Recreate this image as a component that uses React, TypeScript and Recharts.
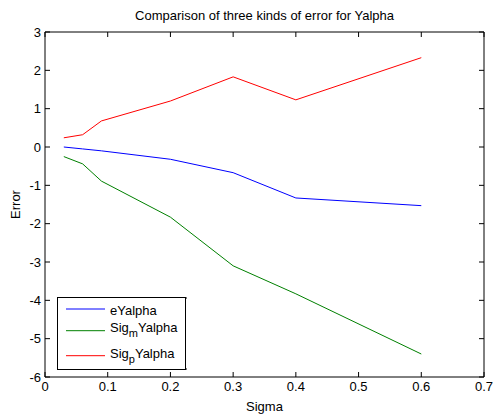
import { Legend, Line, LineChart, XAxis, YAxis } from 'recharts';

const sigma = [0.03, 0.06, 0.09, 0.2, 0.3, 0.4, 0.6];
const eYalpha = [0, -0.05, -0.1, -0.32, -0.67, -1.33, -1.53];
const sigmYalpha = [-0.25, -0.44, -0.89, -1.83, -3.1, -3.83, -5.4];
const sigpYalpha = [0.24, 0.32, 0.68, 1.2, 1.83, 1.23, 2.33];

const xTicks = [0, 0.1, 0.2, 0.3, 0.4, 0.5, 0.6, 0.7];
const yTicks = [-6, -5, -4, -3, -2, -1, 0, 1, 2, 3];

// the last series is bound to the top/right axes so those get a domain and draw the box
const series = [
  { key: 'eYalpha', color: '#0000ff', base: 'eYalpha', sub: '', rest: '', xId: 0, yId: 0 },
  { key: 'sigmYalpha', color: '#008000', base: 'Sig', sub: 'm', rest: 'Yalpha', xId: 0, yId: 0 },
  { key: 'sigpYalpha', color: '#ff0000', base: 'Sig', sub: 'p', rest: 'Yalpha', xId: 'top', yId: 'right' }
];

const data = sigma.map((s, i) => ({
  sigma: s,
  eYalpha: eYalpha[i],
  sigmYalpha: sigmYalpha[i],
  sigpYalpha: sigpYalpha[i]
}));

const FONT = '"Liberation Sans", Arial, sans-serif';
const TICK = 5;

// matlab-style ticks: short marks pointing into the plot box
const BottomTick = ({ x, y, payload }: any) => (
  <g>
    <line x1={x} x2={x} y1={y} y2={y - TICK} stroke="#000" />
    <text x={x} y={y + 14} textAnchor="middle" fontSize={13} fill="#000">
      {payload.value}
    </text>
  </g>
);

const LeftTick = ({ x, y, payload }: any) => (
  <g>
    <line x1={x} x2={x + TICK} y1={y} y2={y} stroke="#000" />
    <text x={x - 4} y={y + 4.5} textAnchor="end" fontSize={13} fill="#000">
      {payload.value}
    </text>
  </g>
);

const TopTick = ({ x, y }: any) => <line x1={x} x2={x} y1={y} y2={y + TICK} stroke="#000" />;
const RightTick = ({ x, y }: any) => <line x1={x} x2={x - TICK} y1={y} y2={y} stroke="#000" />;

const SigmaLabel = ({ viewBox }: any) => (
  <text x={viewBox.x + viewBox.width / 2} y={viewBox.y + 34} textAnchor="middle" fontSize={13} fill="#000">
    Sigma
  </text>
);

const ErrorLabel = ({ viewBox }: any) => {
  const cx = viewBox.x + 12;
  const cy = viewBox.y + viewBox.height / 2;
  return (
    <text x={cx} y={cy} transform={`rotate(-90 ${cx} ${cy})`} textAnchor="middle" fontSize={13} fill="#000">
      Error
    </text>
  );
};

const TitleLabel = ({ viewBox }: any) => (
  <text x={viewBox.x + viewBox.width / 2} y={viewBox.y + viewBox.height - 12} textAnchor="middle" fontSize={13} fill="#000">
    Comparison of three kinds of error for Yalpha
  </text>
);

const rowLine = [12, 33.7, 58.7];
const rowText = [18, 35.3, 61];

const LegendBox = () => (
  <svg width={129} height={73} style={{ display: 'block', fontFamily: FONT, overflow: 'visible' }}>
    <rect x={0.5} y={0.5} width={128} height={72} fill="#fff" stroke="#000" />
    {/* little stubs on the right edge of the legend frame */}
    <line x1={128.5} x2={130} y1={1} y2={1} stroke="#000" />
    <line x1={128.5} x2={130} y1={72} y2={72} stroke="#000" />
    {series.map((s, i) => (
      <g key={s.key}>
        <line x1={9} x2={48} y1={rowLine[i]} y2={rowLine[i]} stroke={s.color} />
        <text x={53} y={rowText[i]} fontSize={13} fill="#000">
          {s.base}
          {s.sub && (
            <>
              <tspan dy={5} fontSize={11}>
                {s.sub}
              </tspan>
              <tspan dy={-5}>{s.rest}</tspan>
            </>
          )}
        </text>
      </g>
    ))}
  </svg>
);

export default function App() {
  return (
    <div style={{ fontFamily: FONT, background: '#fff', width: 493, height: 417 }}>
      <style>{'body { margin: 0; }'}</style>
      <LineChart width={493} height={417} data={data} margin={{ top: 31, right: 8, bottom: 0, left: 8 }}>
        <XAxis
          dataKey="sigma"
          type="number"
          domain={[0, 0.7]}
          ticks={xTicks}
          interval={0}
          allowDataOverflow
          height={40}
          tickSize={0}
          tickMargin={0}
          tickLine={false}
          axisLine={{ stroke: '#000' }}
          tick={(p: any) => <BottomTick {...p} />}
          label={<SigmaLabel />}
        />
        <XAxis
          xAxisId="top"
          orientation="top"
          dataKey="sigma"
          type="number"
          domain={[0, 0.7]}
          ticks={xTicks}
          interval={0}
          allowDataOverflow
          height={1}
          tickSize={0}
          tickMargin={0}
          tickLine={false}
          axisLine={{ stroke: '#000' }}
          tick={(p: any) => <TopTick {...p} />}
          label={<TitleLabel />}
        />
        <YAxis
          type="number"
          domain={[-6, 3]}
          ticks={yTicks}
          interval={0}
          allowDataOverflow
          width={37}
          tickSize={0}
          tickMargin={0}
          tickLine={false}
          axisLine={{ stroke: '#000' }}
          tick={(p: any) => <LeftTick {...p} />}
          label={<ErrorLabel />}
        />
        <YAxis
          yAxisId="right"
          orientation="right"
          type="number"
          domain={[-6, 3]}
          ticks={yTicks}
          interval={0}
          allowDataOverflow
          width={1}
          tickSize={0}
          tickMargin={0}
          tickLine={false}
          axisLine={{ stroke: '#000' }}
          tick={(p: any) => <RightTick {...p} />}
        />
        {series.map((s) => (
          <Line
            key={s.key}
            xAxisId={s.xId}
            yAxisId={s.yId}
            dataKey={s.key}
            stroke={s.color}
            strokeWidth={1}
            dot={false}
            type="linear"
            isAnimationActive={false}
          />
        ))}
        <Legend
          layout="vertical"
          align="center"
          verticalAlign="middle"
          content={() => <LegendBox />}
          wrapperStyle={{ left: 57, top: 297, width: 129, height: 73 }}
        />
      </LineChart>
    </div>
  );
}
